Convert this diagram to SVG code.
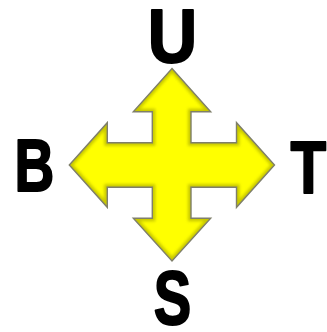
<svg xmlns="http://www.w3.org/2000/svg" width="327" height="332" viewBox="0 0 327 332">
<style>
.lbl{font-family:"Liberation Sans",Arial,sans-serif;font-weight:bold;fill:#000;stroke:#000;stroke-width:2;stroke-linejoin:round;text-anchor:middle}
</style>
<defs>
<polygon id="cross" points="172,68.5 210.7,111.7 191,111.7 191,142.7 236.5,142.7 236.5,122.7 274.5,165 236.5,207.3 236.5,187.3 191,187.3 191,218.3 210.7,218.3 172,261 133.3,218.3 152.3,218.3 152.3,187.3 107.3,187.3 107.3,207.3 69.3,165 107.3,122.7 107.3,142.7 152.3,142.7 152.3,111.7 133.3,111.7"/>
<clipPath id="clip"><use href="#cross"/></clipPath>
<filter id="blur" x="-10%" y="-10%" width="120%" height="120%"><feGaussianBlur stdDeviation="1.6"/></filter>
</defs>
<rect width="327" height="332" fill="#fff"/>
<g id="arrow">
<use href="#cross" fill="#ffff00"/>
<g clip-path="url(#clip)">
<use href="#cross" fill="none" stroke="#b0b000" stroke-width="6" stroke-linejoin="miter" filter="url(#blur)" opacity="0.7"/>
</g>
<use href="#cross" fill="none" stroke="#7f7f6a" stroke-width="1.4" stroke-linejoin="miter"/>
</g>
<g id="U"><text class="lbl" x="172.5" y="61.5" font-size="76" textLength="49.4" lengthAdjust="spacingAndGlyphs">U</text></g>
<g id="B"><text class="lbl" x="34.5" y="191" font-size="74" textLength="39.8" lengthAdjust="spacingAndGlyphs">B</text></g>
<g id="T"><text class="lbl" x="308.4" y="192.5" font-size="75" textLength="35.7" lengthAdjust="spacingAndGlyphs">T</text></g>
<g id="S"><text class="lbl" x="172.5" y="324" font-size="76" textLength="37.5" lengthAdjust="spacingAndGlyphs">S</text></g>
</svg>
